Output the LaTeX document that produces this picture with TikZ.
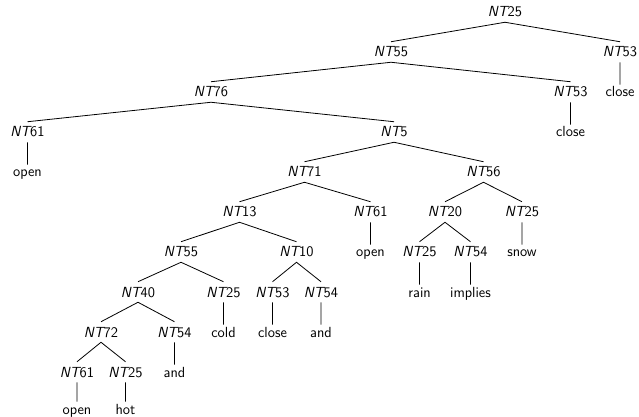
\documentclass[tikz,border=0pt]{standalone}
\begin{document}
\begin{tikzpicture}[x=0.75pt,y=-0.75pt,
  font=\sffamily\fontsize{11}{13}\selectfont,
  nt/.style={anchor=base,inner sep=0pt,text height=11.25pt,text depth=3.75pt},
  lf/.style={anchor=base,inner sep=0pt,text height=9pt,text depth=3.75pt},
  edge/.style={draw=black,line width=0.6pt}]
\useasboundingbox (0,0) rectangle (639,417);
\newcommand{\ntl}[1]{{\itshape NT}#1}
% level 0
\node[nt] (r) at (505,17) {\ntl{25}};
% level 1
\node[nt] (a) at (391,57) {\ntl{55}};
\node[nt] (b) at (620,57) {\ntl{53}};
% level 2
\node[nt] (c) at (211,97) {\ntl{76}};
\node[nt] (d) at (570.5,97) {\ntl{53}};
\node[lf] (bw) at (620,97) {close};
% level 3
\node[nt] (e) at (27.5,137) {\ntl{61}};
\node[nt] (f) at (394,137) {\ntl{5}};
\node[lf] (dw) at (570.5,137) {close};
% level 4
\node[lf] (ew) at (27.5,177) {open};
\node[nt] (g) at (304.5,177) {\ntl{71}};
\node[nt] (h) at (483.5,177) {\ntl{56}};
% level 5
\node[nt] (i) at (239.5,217) {\ntl{13}};
\node[nt] (j) at (370.5,217) {\ntl{61}};
\node[nt] (k) at (445,217) {\ntl{20}};
\node[nt] (l) at (522,217) {\ntl{25}};
% level 6
\node[nt] (m) at (181,257) {\ntl{55}};
\node[nt] (n) at (296.5,257) {\ntl{10}};
\node[lf] (jw) at (370.5,257) {open};
\node[nt] (o) at (419.5,257) {\ntl{25}};
\node[nt] (p) at (470.5,257) {\ntl{54}};
\node[lf] (lw) at (522,257) {snow};
% level 7
\node[nt] (q) at (138,297) {\ntl{40}};
\node[nt] (s) at (223.5,297) {\ntl{25}};
\node[nt] (t) at (272.5,297) {\ntl{53}};
\node[nt] (u) at (321,297) {\ntl{54}};
\node[lf] (ow) at (419.5,297) {rain};
\node[lf] (pw) at (470.5,297) {implies};
% level 8
\node[nt] (v) at (101,337) {\ntl{72}};
\node[nt] (w) at (174.5,337) {\ntl{54}};
\node[lf] (sw) at (223.5,337) {cold};
\node[lf] (tw) at (272.5,337) {close};
\node[lf] (uw) at (321,337) {and};
% level 9
\node[nt] (x) at (77,377) {\ntl{61}};
\node[nt] (y) at (125.5,377) {\ntl{25}};
\node[lf] (ww) at (174.5,377) {and};
% level 10
\node[lf] (xw) at (77,414) {open};
\node[lf] (yw) at (125.5,414) {hot};
% edges
\path[edge] (r.south) -- (a.north) (r.south) -- (b.north)
  (a.south) -- (c.north) (a.south) -- (d.north)
  (b.south) -- (bw.north)
  (c.south) -- (e.north) (c.south) -- (f.north)
  (d.south) -- (dw.north)
  (e.south) -- (ew.north)
  (f.south) -- (g.north) (f.south) -- (h.north)
  (g.south) -- (i.north) (g.south) -- (j.north)
  (h.south) -- (k.north) (h.south) -- (l.north)
  (i.south) -- (m.north) (i.south) -- (n.north)
  (j.south) -- (jw.north)
  (k.south) -- (o.north) (k.south) -- (p.north)
  (l.south) -- (lw.north)
  (m.south) -- (q.north) (m.south) -- (s.north)
  (n.south) -- (t.north) (n.south) -- (u.north)
  (o.south) -- (ow.north) (p.south) -- (pw.north)
  (q.south) -- (v.north) (q.south) -- (w.north)
  (s.south) -- (sw.north) (t.south) -- (tw.north) (u.south) -- (uw.north)
  (v.south) -- (x.north) (v.south) -- (y.north)
  (w.south) -- (ww.north)
  (x.south) -- (xw.north) (y.south) -- (yw.north);
\end{tikzpicture}
\end{document}
